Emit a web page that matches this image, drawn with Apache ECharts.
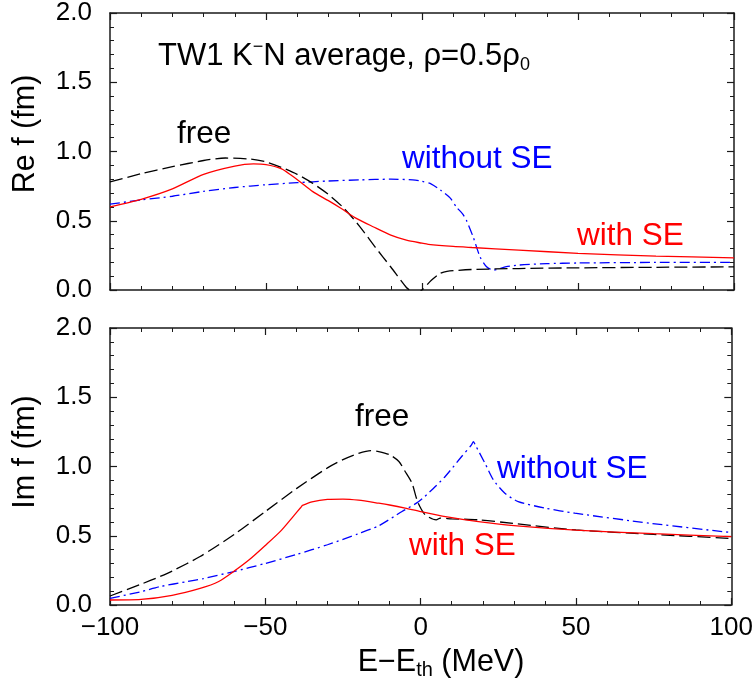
<!DOCTYPE html>
<html>
<head>
<meta charset="utf-8">
<script src="https://cdn.jsdelivr.net/npm/echarts@6/dist/echarts.min.js"></script>
<style>
html,body{margin:0;padding:0;background:#fff;}
#chart{width:756px;height:680px;}
</style>
</head>
<body>
<div id="chart"></div>
<script>
// ---- Data: [E - Eth (MeV), f (fm)] ----
const reFree = [[-100,0.78],[-90,0.84],[-80,0.89],[-70,0.935],[-63,0.953],[-55,0.945],[-50,0.925],[-45,0.885],[-40,0.835],[-35,0.77],[-30,0.69],[-25,0.59],[-20,0.46],[-15,0.31],[-10,0.166],[-5,0.018],[-4,0.0],[-2,-0.03],[0,0.0],[3,0.07],[5.8,0.12],[8,0.135],[16,0.148],[31,0.155],[50,0.16],[75,0.164],[100,0.167]];
const reWith = [[-100,0.60],[-90,0.655],[-80,0.73],[-70,0.835],[-60,0.895],[-54,0.91],[-50,0.905],[-45,0.875],[-42,0.83],[-39,0.78],[-35,0.71],[-30,0.645],[-26,0.59],[-21.5,0.523],[-15.5,0.455],[-10,0.396],[-5,0.36],[0,0.338],[2,0.33],[10,0.315],[16,0.307],[31,0.288],[50,0.265],[75,0.245],[100,0.232]];
const reWithout = [[-100,0.62],[-90,0.65],[-80,0.677],[-70,0.712],[-60,0.74],[-50,0.76],[-40,0.775],[-30,0.787],[-20,0.795],[-10,0.8],[-3,0.795],[0,0.785],[3,0.765],[6,0.72],[9,0.665],[11,0.6],[13,0.55],[14.3,0.5],[16.4,0.383],[18.6,0.24],[20.7,0.168],[22.9,0.144],[27,0.168],[31,0.18],[40,0.19],[50,0.195],[75,0.199],[100,0.2]];

const imFree = [[-100,0.065],[-90,0.15],[-84,0.205],[-80,0.245],[-71,0.35],[-60,0.51],[-50,0.675],[-40,0.84],[-30,0.99],[-25,1.05],[-20,1.095],[-16,1.115],[-13.5,1.108],[-10,1.085],[-7,1.036],[-5,0.964],[-2.8,0.88],[-1.2,0.76],[0,0.70],[1.5,0.65],[5,0.615],[6.3,0.627],[10,0.622],[18.6,0.615],[31,0.586],[50,0.542],[75,0.51],[100,0.48]];
const imWith = [[-100,0.036],[-90,0.04],[-80,0.07],[-71,0.12],[-65,0.17],[-60,0.245],[-55,0.33],[-50,0.43],[-45,0.535],[-41,0.64],[-38.6,0.704],[-38,0.72],[-37.2,0.727],[-35,0.745],[-30,0.762],[-25,0.765],[-20,0.757],[-13.5,0.735],[-10,0.722],[-5,0.7],[0,0.675],[8,0.638],[18.6,0.602],[31,0.571],[50,0.54],[75,0.515],[100,0.494]];
const imWithout = [[-100,0.048],[-90,0.096],[-84,0.132],[-75,0.17],[-70,0.19],[-60.5,0.24],[-50,0.3],[-40,0.365],[-30,0.435],[-20,0.515],[-13.5,0.572],[-6,0.675],[-0.6,0.747],[4,0.84],[7.9,0.928],[13.2,1.072],[16.3,1.154],[17,1.18],[17.6,1.155],[20.7,1.024],[23.4,0.904],[27.1,0.807],[31.4,0.747],[40,0.7],[49.6,0.663],[74,0.59],[100,0.523]];

const xTicks = [-100, -50, 0, 50, 100];
const yTicks = [0.0, 0.5, 1.0, 1.5, 2.0];

// ---- Styling ----
const FONT = "'Liberation Sans', Arial, Helvetica, sans-serif";
const AX = '#1a1a1a';

function xAxisDef(gridIndex, position, showLabels) {
  return {
    type: 'value', gridIndex: gridIndex, position: position,
    min: xTicks[0], max: xTicks[xTicks.length - 1], interval: xTicks[1] - xTicks[0],
    axisLine: { show: true, onZero: false, lineStyle: { color: AX, width: 1.5 } },
    axisTick: { show: true, inside: true, length: 7, lineStyle: { color: AX, width: 1.2 } },
    minorTick: { show: true, splitNumber: 5, length: 4, lineStyle: { color: AX, width: 1 } },
    splitLine: { show: false },
    axisLabel: {
      show: showLabels, margin: 10, color: '#000', fontSize: 26, fontFamily: FONT,
      formatter: v => (v < 0 ? '\u2212' + Math.abs(v) : String(v))
    }
  };
}
function yAxisDef(gridIndex, position, showLabels) {
  return {
    type: 'value', gridIndex: gridIndex, position: position,
    min: yTicks[0], max: yTicks[yTicks.length - 1], interval: yTicks[1] - yTicks[0],
    axisLine: { show: true, onZero: false, lineStyle: { color: AX, width: 1.5 } },
    axisTick: { show: true, inside: true, length: 7, lineStyle: { color: AX, width: 1.2 } },
    minorTick: { show: true, splitNumber: 5, length: 4, lineStyle: { color: AX, width: 1 } },
    splitLine: { show: false },
    axisLabel: {
      show: showLabels, margin: 18, color: '#000', fontSize: 26, fontFamily: FONT,
      formatter: v => v.toFixed(1)
    }
  };
}
function lineSeries(data, xi, yi, color, type) {
  return {
    type: 'line', xAxisIndex: xi, yAxisIndex: yi, data: data,
    showSymbol: false, symbol: 'none', clip: true,
    smooth: 0.25,
    lineStyle: { color: color, width: 1.3, type: type },
    silent: true, animation: false
  };
}
function label(text, x, baseline, color, size) {
  size = size || 31.5;
  return {
    type: 'text', x: x, y: baseline - 0.3465 * size,
    style: { text: text, fill: color, font: size + 'px ' + FONT, align: 'left', verticalAlign: 'middle' },
    silent: true
  };
}

const chart = echarts.init(document.getElementById('chart'), null, { renderer: 'canvas' });
chart.setOption({
  animation: false,
  backgroundColor: '#fff',
  grid: [
    { left: 110, top: 12, width: 624, height: 278 },
    { left: 110, top: 328, width: 624, height: 277 }
  ],
  xAxis: [
    xAxisDef(0, 'bottom', false),
    xAxisDef(0, 'top', false),
    xAxisDef(1, 'bottom', true),
    xAxisDef(1, 'top', false)
  ],
  yAxis: [
    yAxisDef(0, 'left', true),
    yAxisDef(0, 'right', false),
    yAxisDef(1, 'left', true),
    yAxisDef(1, 'right', false)
  ],
  series: [
    lineSeries(reWithout, 0, 0, '#0000ff', [10, 4, 2, 4]),
    lineSeries(reFree, 0, 0, '#000000', [13, 5]),
    lineSeries(reWith, 0, 0, '#ff0000', 'solid'),
    lineSeries(imWithout, 2, 2, '#0000ff', [10, 4, 2, 4]),
    lineSeries(imFree, 2, 2, '#000000', [13, 5]),
    lineSeries(imWith, 2, 2, '#ff0000', 'solid')
  ],
  graphic: [
    {
      type: 'text', x: 158, y: 66.7 - 10.7,
      style: {
        text: '{m|TW1 K}{sup|\u2212}{m|N average, \u03c1=0.5\u03c1}{sub|0}',
        font: '31px ' + FONT, fill: '#000', align: 'left', verticalAlign: 'middle',
        rich: {
          m: { fontSize: 31, fontFamily: FONT, lineHeight: 36, color: '#000' },
          sup: { fontSize: 18, fontFamily: FONT, lineHeight: 13, verticalAlign: 'top', color: '#000' },
          sub: { fontSize: 18, fontFamily: FONT, lineHeight: 11, verticalAlign: 'bottom', color: '#000' }
        }
      },
      silent: true
    },
    label('free', 177, 145, '#000'),
    label('without SE', 402, 170, '#0000ff'),
    label('with SE', 577, 247, '#ff0000'),
    label('free', 355, 428, '#000'),
    label('without SE', 497, 480, '#0000ff'),
    label('with SE', 409, 557, '#ff0000'),
    {
      type: 'text', x: 25.6, y: 134, rotation: Math.PI / 2,
      style: { text: 'Re f (fm)', font: '30.5px ' + FONT, fill: '#000', align: 'center', verticalAlign: 'middle' },
      silent: true
    },
    {
      type: 'text', x: 25.6, y: 452, rotation: Math.PI / 2,
      style: { text: 'Im f (fm)', font: '30.5px ' + FONT, fill: '#000', align: 'center', verticalAlign: 'middle' },
      silent: true
    },
    {
      type: 'text', x: 441, y: 673 - 10.6,
      style: {
        text: '{m|E\u2212E}{sub|th}{m| (MeV)}',
        font: '30.5px ' + FONT, fill: '#000', align: 'center', verticalAlign: 'middle',
        rich: {
          m: { fontSize: 30.5, fontFamily: FONT, lineHeight: 36, color: '#000' },
          sub: { fontSize: 20, fontFamily: FONT, lineHeight: 19, verticalAlign: 'bottom', color: '#000' }
        }
      },
      silent: true
    }
  ]
});
</script>
</body>
</html>
